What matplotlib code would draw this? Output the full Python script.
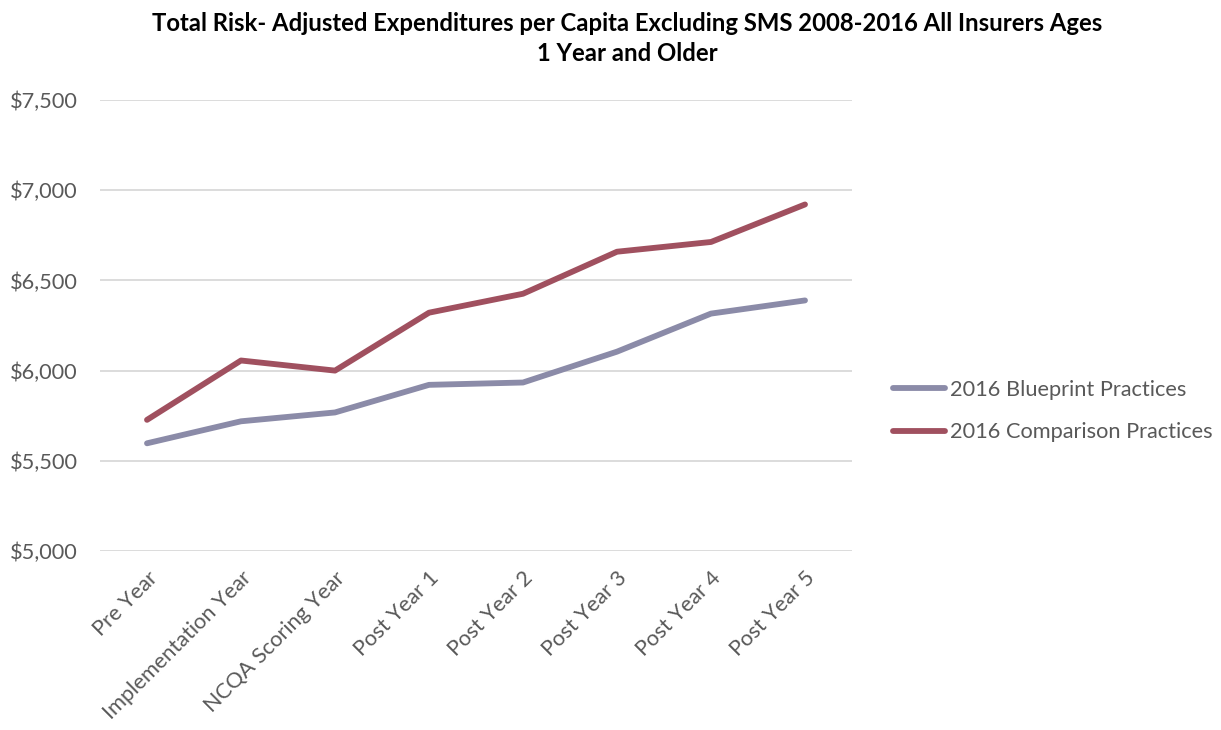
import matplotlib
matplotlib.use("Agg")
import matplotlib.pyplot as plt
from matplotlib.ticker import FuncFormatter

categories = ["Pre Year", "Implementation Year", "NCQA Scoring Year", "Post Year 1",
              "Post Year 2", "Post Year 3", "Post Year 4", "Post Year 5"]
blueprint = [5597, 5719, 5768, 5921, 5934, 6105, 6316, 6389]
comparison = [5727, 6056, 6000, 6321, 6426, 6659, 6713, 6921]
series_names = ["2016 Blueprint Practices", "2016 Comparison Practices"]
y_ticks = [5000, 5500, 6000, 6500, 7000, 7500]
title = "Total Risk- Adjusted Expenditures per Capita Excluding SMS 2008-2016 All Insurers Ages\n1 Year and Older"

plt.rcParams['font.family'] = ['Lato', 'DejaVu Sans']
text_color = "#595959"

fig = plt.figure(figsize=(12.21, 7.30), dpi=100)
ax = fig.add_axes([100/1221, 1-551/730, 752/1221, 451/730])

x = list(range(len(categories)))
lw = 4.2
l1, = ax.plot(x, blueprint, color="#8B8BA8", lw=lw, solid_capstyle="round", solid_joinstyle="round")
l2, = ax.plot(x, comparison, color="#A0505F", lw=lw, solid_capstyle="round", solid_joinstyle="round")

ax.set_xlim(-0.5, len(categories) - 0.5)
ax.set_ylim(5000, 7500)
ax.set_yticks(y_ticks)
ax.yaxis.set_major_formatter(FuncFormatter(lambda v, p: "${:,.0f}".format(v)))
ax.grid(axis="y", color="#D9D9D9", lw=1.3)
ax.set_axisbelow(True)
for s in ax.spines.values():
    s.set_visible(False)
ax.tick_params(axis="both", length=0, colors=text_color, labelsize=15.7)
ax.tick_params(axis="y", pad=16)
ax.set_xticks(x)
ax.set_xticklabels(categories, rotation=45, ha="right", rotation_mode="anchor")
ax.tick_params(axis="x", pad=12)

fig.text(0.514, 0.984, title, ha="center", va="top", fontsize=17.2, fontweight="bold",
         color="black", linespacing=1.4)

fig.legend([l1, l2], series_names, loc="center left", bbox_to_anchor=(893/1221, 1-411/730),
           frameon=False, fontsize=15.7, labelcolor=text_color, handlelength=2.4,
           handletextpad=0.2, labelspacing=1.05, borderaxespad=0, borderpad=0)

fig.savefig("out.png", dpi=100)
